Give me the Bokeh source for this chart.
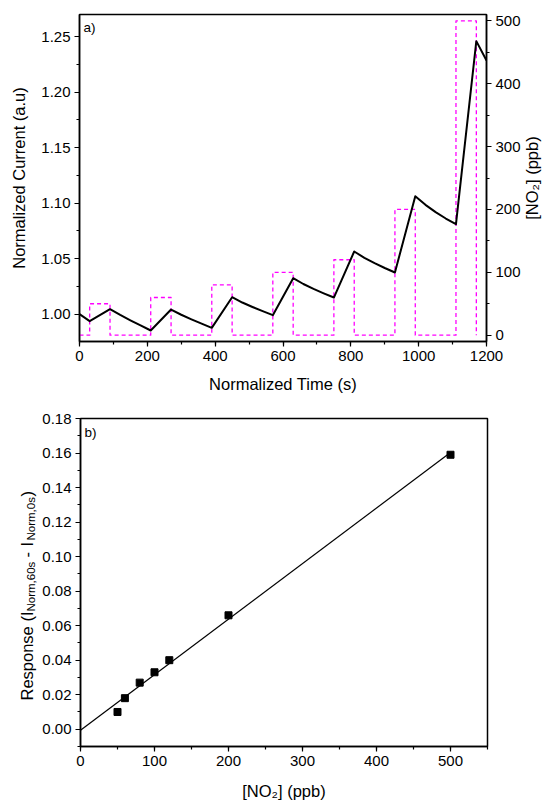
import numpy as np
from bokeh.plotting import figure
from bokeh.models import Range1d, LinearAxis, SingleIntervalTicker, NumeralTickFormatter, Label
from bokeh.layouts import column, row
from bokeh.embed import file_html
from bokeh.resources import INLINE

# ---- data: panel a) ----
time_s = [0, 30, 90, 120, 150, 180, 210, 270, 300, 330, 360, 390, 450, 480, 510, 540, 570,
          630, 660, 690, 720, 750, 810, 840, 870, 900, 930, 990, 1020, 1050, 1080, 1110, 1170, 1200]
current_norm = [1.000, 0.9937, 1.0045, 0.9993, 0.9945, 0.9899, 0.9853, 1.0042, 0.9995, 0.9954,
                0.9915, 0.9877, 1.0153, 1.0105, 1.0065, 1.0027, 0.9991, 1.0324, 1.0272, 1.0228,
                1.0188, 1.0150, 1.0565, 1.0508, 1.0460, 1.0416, 1.0376, 1.1063, 1.0985, 1.0920,
                1.0862, 1.0811, 1.2460, 1.2286]
exposure_on = [30, 210, 390, 570, 750, 930, 1110]
exposure_off = [90, 270, 450, 630, 810, 990, 1170]
no2_ppb = [50, 60, 80, 100, 120, 200, 500]

# ---- data: panel b) ----
response = [0.010, 0.018, 0.027, 0.033, 0.040, 0.066, 0.159]

FONT = "Liberation Sans"
TICK_FS = "15px"
TITLE_FS = "16.5px"
Y1 = (0.9754, 1.270)
Y2 = (-0.01, 0.18)


def style_axis(ax):
    ax.axis_line_width = 1.5
    ax.axis_line_color = "black"
    ax.major_tick_line_width = 1.2
    ax.minor_tick_line_width = 1.2
    ax.major_tick_out = 5
    ax.major_tick_in = 0
    ax.minor_tick_out = 3
    ax.minor_tick_in = 0
    ax.major_label_text_font = FONT
    ax.major_label_text_font_size = TICK_FS
    ax.major_label_text_color = "black"
    ax.major_label_standoff = 4
    ax.axis_label_text_font = FONT
    ax.axis_label_text_font_size = TITLE_FS
    ax.axis_label_text_font_style = "normal"
    ax.axis_label_text_color = "black"
    ax.axis_label_standoff = 8


def blank(width, height, xr, yr, top, bottom):
    f = figure(width=width, height=height, x_range=Range1d(*xr), y_range=Range1d(*yr),
               x_axis_type=None, y_axis_type=None, output_backend="svg", toolbar_location=None,
               min_border_left=0, min_border_right=0, min_border_top=top, min_border_bottom=bottom)
    f.grid.visible = False
    f.outline_line_color = None
    return f


# ================= panel a =================
p1 = figure(width=523, height=398, x_range=Range1d(0, 1200), y_range=Range1d(*Y1),
            output_backend="svg", toolbar_location=None,
            min_border_left=79, min_border_right=36, min_border_top=14, min_border_bottom=57)
p1.extra_y_ranges = {"no2": Range1d(-10, 510)}
p1.grid.visible = False
p1.outline_line_color = "black"
p1.outline_line_width = 1.5

p1.xaxis.ticker = SingleIntervalTicker(interval=200, num_minor_ticks=2)
p1.yaxis.ticker = SingleIntervalTicker(interval=0.05, num_minor_ticks=2)
p1.yaxis.formatter = NumeralTickFormatter(format="0.00")
p1.xaxis.axis_label = "Normalized Time (s)"
p1.yaxis.axis_label = "Normalized Current (a.u)"
for ax in p1.xaxis + p1.yaxis:
    style_axis(ax)
p1.yaxis.axis_label_standoff = 10
p1.xaxis.axis_label_standoff = 11

ax_r = LinearAxis(y_range_name="no2", ticker=SingleIntervalTicker(interval=100, num_minor_ticks=2))
style_axis(ax_r)
p1.add_layout(ax_r, "right")

# NO2 step profile built from exposure table
step_t = [0]
step_c = [0]
for on, off, c in zip(exposure_on, exposure_off, no2_ppb):
    step_t += [on, on, off, off]
    step_c += [0, c, c, 0]

p1.line(step_t, step_c, y_range_name="no2", line_color="#FF00FF", line_width=1.3,
        line_dash="4 3", line_join="round")
p1.line(time_s, current_norm, line_color="black", line_width=2, line_join="round")

p1.add_layout(Label(x=0, y=Y1[1], x_offset=4, y_offset=-5, text="a)", text_align="left",
                    text_baseline="top", text_font=FONT, text_font_size="13.5px", text_color="black"))

# right-hand title panel (reads bottom to top)
r1 = blank(21, 398, (523, 544), Y1, 14, 57)
r1.add_layout(Label(x=531, y=(Y1[0] + Y1[1]) / 2, text="[NO₂] (ppb)",
                    angle=np.pi / 2, text_align="center", text_baseline="middle",
                    text_font=FONT, text_font_size=TITLE_FS, text_color="black"))

# ================= panel b =================
p2 = figure(width=505, height=404, x_range=Range1d(0, 550), y_range=Range1d(*Y2),
            output_backend="svg", toolbar_location=None,
            min_border_left=40, min_border_right=57, min_border_top=20, min_border_bottom=55)
p2.grid.visible = False
p2.outline_line_color = "black"
p2.outline_line_width = 1.5
p2.xaxis.ticker = SingleIntervalTicker(interval=100, num_minor_ticks=2)
p2.yaxis.ticker = SingleIntervalTicker(interval=0.02, num_minor_ticks=2)
p2.yaxis.formatter = NumeralTickFormatter(format="0.00")
p2.xaxis.axis_label = "[NO₂] (ppb)"
for ax in p2.xaxis + p2.yaxis:
    style_axis(ax)
p2.xaxis.axis_label_standoff = 13

slope, intercept = np.polyfit(no2_ppb, response, 1)
fit_x = [0, max(no2_ppb)]
fit_y = [intercept + slope * v for v in fit_x]
p2.line(fit_x, fit_y, line_color="black", line_width=1.2)
p2.scatter(no2_ppb, response, marker="square", size=7, fill_color="black", line_color="black")

p2.add_layout(Label(x=0, y=Y2[1], x_offset=4, y_offset=-6, text="b)", text_align="left",
                    text_baseline="top", text_font=FONT, text_font_size="13.5px", text_color="black"))

# left-hand title panel with subscripts
l2 = blank(39, 404, (0, 39), Y2, 20, 55)
pieces = [("Response (I", TITLE_FS, 26, 46),
          ("Norm,60s", "11.5px", 30, 135),
          ("-", TITLE_FS, 26, 189),
          ("I", TITLE_FS, 26, 200),
          ("Norm,0s", "11.5px", 30, 206),
          (")", TITLE_FS, 26, 250)]
for txt, fs, bx, dy in pieces:
    l2.add_layout(Label(x=bx, y=Y2[0], y_offset=dy, text=txt, angle=np.pi / 2,
                        text_align="left", text_baseline="alphabetic", text_font=FONT,
                        text_font_size=fs, text_color="black"))

layout = column(row(p1, r1), row(l2, p2))
open("out.html", "w").write(file_html(layout, INLINE))
